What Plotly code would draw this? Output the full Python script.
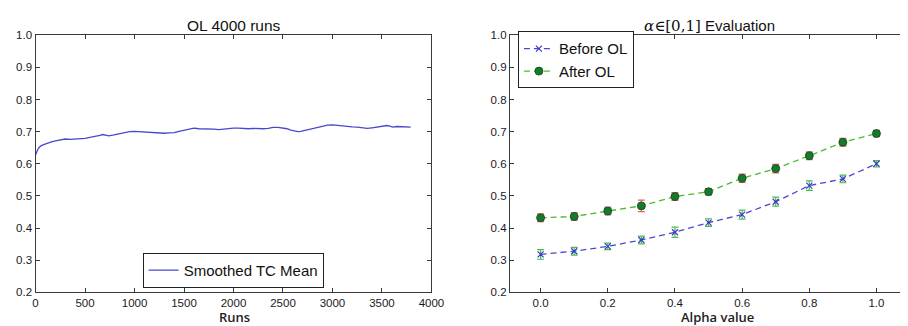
import plotly.graph_objects as go

# ---------------- data ----------------
runs = [0, 10, 20, 35, 50, 75, 100, 130, 160, 200, 250, 300, 350, 400, 450, 500, 550, 600,
        650, 680, 710, 740, 780, 820, 860, 900, 950, 1000, 1050, 1100, 1150, 1200, 1250,
        1300, 1350, 1400, 1450, 1500, 1550, 1600, 1650, 1700, 1750, 1800, 1850, 1900, 1950,
        2000, 2050, 2100, 2150, 2200, 2250, 2300, 2350, 2400, 2450, 2500, 2540, 2580, 2620,
        2650, 2680, 2720, 2760, 2800, 2850, 2900, 2950, 3000, 3050, 3100, 3150, 3200, 3250,
        3300, 3350, 3400, 3450, 3500, 3550, 3580, 3610, 3650, 3700, 3750, 3790]
tc_mean = [0.627, 0.636, 0.643, 0.650, 0.655, 0.659, 0.662, 0.665, 0.668, 0.671, 0.675, 0.677,
           0.676, 0.677, 0.676, 0.679, 0.682, 0.684, 0.688, 0.691, 0.689, 0.687, 0.689, 0.692,
           0.694, 0.697, 0.700, 0.701, 0.700, 0.700, 0.697, 0.696, 0.695, 0.695, 0.696, 0.697,
           0.701, 0.705, 0.708, 0.711, 0.709, 0.709, 0.709, 0.708, 0.706, 0.708, 0.710, 0.711,
           0.711, 0.709, 0.709, 0.710, 0.709, 0.709, 0.710, 0.713, 0.713, 0.712, 0.709, 0.705,
           0.702, 0.700, 0.701, 0.704, 0.707, 0.710, 0.713, 0.717, 0.720, 0.721, 0.719, 0.718,
           0.716, 0.715, 0.714, 0.712, 0.710, 0.712, 0.714, 0.716, 0.719, 0.717, 0.714, 0.716,
           0.716, 0.714, 0.714]

alpha = [0.0, 0.1, 0.2, 0.3, 0.4, 0.5, 0.6, 0.7, 0.8, 0.9, 1.0]
before_ol = [0.318, 0.328, 0.343, 0.363, 0.387, 0.417, 0.442, 0.482, 0.532, 0.553, 0.600]
before_err = [0.015, 0.012, 0.010, 0.012, 0.016, 0.012, 0.014, 0.014, 0.015, 0.012, 0.010]
after_ol = [0.432, 0.436, 0.453, 0.469, 0.498, 0.513, 0.555, 0.585, 0.625, 0.667, 0.694]
after_err = [0.012, 0.012, 0.012, 0.018, 0.012, 0.010, 0.013, 0.013, 0.012, 0.012, 0.010]

y_ticks = [0.2, 0.3, 0.4, 0.5, 0.6, 0.7, 0.8, 0.9, 1.0]
runs_ticks = [0, 500, 1000, 1500, 2000, 2500, 3000, 3500, 4000]
alpha_ticks = [0.0, 0.2, 0.4, 0.6, 0.8, 1.0]

W, H = 908, 326
FONT = "Liberation Sans, Arial, sans-serif"
AX = "#3a3a3a"

fig = go.Figure()

fig.add_trace(go.Scatter(
    x=runs, y=tc_mean, mode="lines", name="Smoothed TC Mean",
    line=dict(color="#4848cc", width=1.3),
    xaxis="x", yaxis="y", legend="legend"))

fig.add_trace(go.Scatter(
    x=alpha, y=before_ol, mode="lines+markers", name="Before OL",
    line=dict(color="#4a4ad0", width=1.3, dash="6px,4px"),
    marker=dict(symbol="x-thin", size=6, line=dict(color="#3a3acc", width=1.2)),
    error_y=dict(type="data", array=before_err, color="#48c048", thickness=1.2, width=3.5),
    xaxis="x2", yaxis="y2", legend="legend2"))

fig.add_trace(go.Scatter(
    x=alpha, y=after_ol, mode="lines+markers", name="After OL",
    line=dict(color="#4cbb2a", width=1.3, dash="6px,4px"),
    marker=dict(symbol="circle", size=8, color="#157a2e", line=dict(color="#0c4a1a", width=0.8)),
    error_y=dict(type="data", array=after_err, color="#f06060", thickness=1.2, width=3.5),
    xaxis="x2", yaxis="y2", legend="legend2"))

ydom = [1 - 289 / H, 1 - 22 / H]
axis_common = dict(showgrid=False, zeroline=False, showline=True, linecolor=AX, linewidth=1.3,
                   ticks="inside", ticklen=4, tickcolor=AX, tickwidth=1,
                   tickfont=dict(family=FONT, size=11.5, color="#1a1a1a"))

fig.update_layout(
    width=W, height=H, margin=dict(l=0, r=0, t=0, b=0),
    paper_bgcolor="white", plot_bgcolor="white",
    xaxis=dict(domain=[25 / W, 428 / W], range=[0, 4000], tickvals=runs_ticks,
               mirror="ticks", anchor="y", **axis_common),
    yaxis=dict(domain=ydom, range=[0.2, 1.0], tickvals=y_ticks, tickformat=".1f",
               mirror="ticks", anchor="x", **axis_common),
    xaxis2=dict(domain=[508 / W, 1.0], range=[-0.091, 1.079], tickvals=alpha_ticks,
                tickformat=".1f", mirror="ticks", anchor="y2", **axis_common),
    yaxis2=dict(domain=ydom, range=[0.2, 1.0], tickvals=y_ticks, tickformat=".1f",
                mirror=False, anchor="x2", **axis_common),
    legend=dict(x=134 / W, y=1 - 248 / H, xanchor="left", yanchor="top",
                bgcolor="white", bordercolor="#222", borderwidth=1,
                font=dict(family=FONT, size=15, color="#111")),
    legend2=dict(x=516 / W, y=1 - 18 / H, xanchor="left", yanchor="top",
                 bgcolor="white", bordercolor="#222", borderwidth=1,
                 font=dict(family=FONT, size=15, color="#111")),
    showlegend=True,
)

fig.add_annotation(text="OL 4000 runs", x=(25 + 428) / 2 / W, y=1 - 12 / H, xref="paper", yref="paper",
                   showarrow=False, xanchor="center", yanchor="middle",
                   font=dict(family=FONT, size=15.5, color="#111"))
fig.add_annotation(text="<span style='font-family:DejaVu Serif'><i>α</i>∈[0,1]</span> Evaluation",
                   x=711 / W, y=1 - 12 / H, xref="paper", yref="paper",
                   showarrow=False, xanchor="center", yanchor="middle",
                   font=dict(family=FONT, size=15, color="#111"))
fig.add_annotation(text="Runs", x=228 / W, y=1 - 315 / H, xref="paper", yref="paper",
                   showarrow=False, xanchor="center", yanchor="middle",
                   font=dict(family="Open Sans", size=13, color="#222", weight=600))
fig.add_annotation(text="Alpha value", x=719 / W, y=1 - 315 / H, xref="paper", yref="paper",
                   showarrow=False, xanchor="center", yanchor="middle",
                   font=dict(family="Open Sans", size=13, color="#222", weight=600))

fig.write_html("out.html")
